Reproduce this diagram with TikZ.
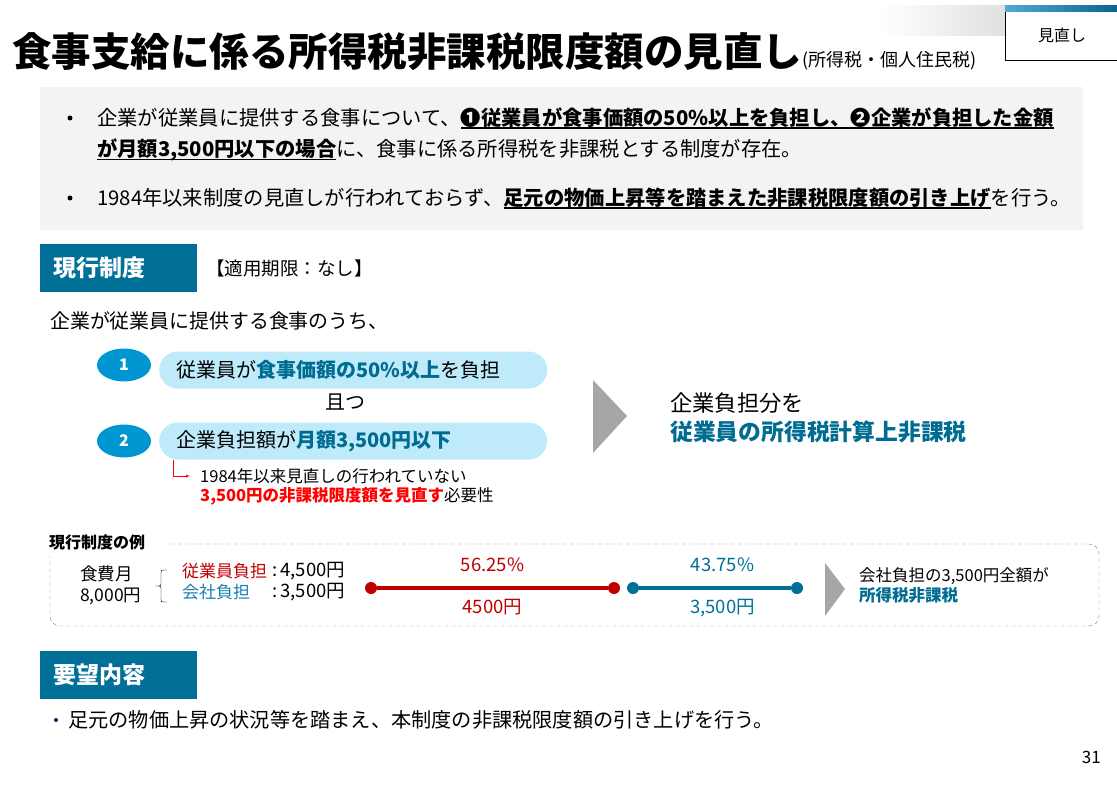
\documentclass[tikz,border=0pt]{standalone}
\usepackage{fontspec}
\setmainfont{Noto Sans CJK JP}
\usetikzlibrary{shapes.geometric}
\definecolor{hdrblue}{RGB}{0,112,153}
\definecolor{tealtxt}{RGB}{0,108,145}
\definecolor{dotblue}{RGB}{0,150,210}
\definecolor{pillblue}{RGB}{190,234,250}
\definecolor{boxgray}{RGB}{242,243,245}
\definecolor{lred}{RGB}{192,0,0}
\definecolor{cotxt}{RGB}{24,128,176}
\definecolor{navy}{RGB}{0,32,96}
\definecolor{stripl}{RGB}{80,170,210}
\definecolor{stripd}{RGB}{10,100,140}
\definecolor{arrowgray}{RGB}{166,166,166}
\newcommand{\fs}[1]{\fontsize{#1}{#1}\selectfont}
\newcommand{\uln}[1]{\setbox0\hbox{#1}\rlap{\rule[-3.5pt]{\wd0}{1.2pt}}\box0}
\tikzset{
  txt/.style={anchor=west, inner sep=0pt},
  body/.style={anchor=west, inner sep=0pt, font=\fs{20.3}},
  header/.style={anchor=north west, fill=hdrblue, text=white, font=\fs{23}\bfseries,
    minimum height=48pt, text width=131pt, inner xsep=13pt, inner ysep=0pt, align=left},
  pill/.style={anchor=west, fill=pillblue, rounded corners=18.5pt, minimum height=37pt,
    text width=354pt, inner xsep=17pt, inner ysep=0pt, align=left, font=\fs{20}},
  num/.style={ellipse, fill=dotblue, text=white, font=\fs{16}\bfseries,
    minimum width=54pt, minimum height=33pt, inner sep=0pt},
  dot/.style={circle, inner sep=0pt, minimum size=12pt},
}
\begin{document}
\begin{tikzpicture}[x=1pt,y=-1pt]
\useasboundingbox (0,0) rectangle (1117,790);
% title
\shade[left color=white, right color=black!12] (880,5) rectangle (1005,35);
\shade[left color=stripl, right color=stripd] (1005,5) rectangle (1117,12);
\fill[white] (1005,12) rectangle (1117,60);
\draw (1005,12) -- (1005,60) -- (1117,60);
\node[font=\fs{16}] (tag) at (1062,35) {見直し};
\node[txt, anchor=base west, font=\fs{39.5}\bfseries] (title) at (12,66) {食事支給に係る所得税非課税限度額の見直し};
\node[txt, anchor=base west, font=\fs{18}] (subtitle) at (title.base east) {(所得税・個人住民税)};

% summary box
\fill[boxgray] (40,87) rectangle (1083,230);
\foreach \y in {118,198}
  \fill (70,\y) circle (2.5pt);
\node[body] (sum1) at (97,118) {企業が従業員に提供する食事について、\uln{\bfseries ❶従業員が食事価額の50\%以上を負担し、❷企業が負担した金額}};
\node[body] (sum2) at (97,150) {\uln{\bfseries が月額3,500円以下の場合}に、食事に係る所得税を非課税とする制度が存在。};
\node[body] (sum3) at (97,198) {1984年以来制度の見直しが行われておらず、\uln{\bfseries 足元の物価上昇等を踏まえた非課税限度額の引き上げ}を行う。};

% current system
\node[header] (cur) at (40,244) {現行制度};
\node[txt, font=\fs{18.5}] (period) at (206,268) {【適用期限：なし】};
\node[txt, font=\fs{19.9}] (intro) at (50,321) {企業が従業員に提供する食事のうち、};
\node[num] (n1) at (124,365) {1};
\node[num] (n2) at (124,441) {2};
\node[pill] (c1) at (159,370) {従業員が\textcolor{tealtxt}{\bfseries 食事価額の50\%以上}を負担};
\node[pill] (c2) at (159,441) {企業負担額が\textcolor{tealtxt}{\bfseries 月額3,500円以下}};
\node[font=\fs{20}] (and) at (345,402) {且つ};
\node[txt, font=\fs{16.5}] (note1) at (200,476) {1984年以来見直しの行われていない};
\node[txt, font=\fs{16.5}] (note2) at (200,496) {\textcolor{red}{\bfseries 3,500円の非課税限度額を見直す}必要性};
\draw[red, ->, >=latex] ([xshift=14pt]c2.south west) |- ([xshift=-10pt]note1.west);
\fill[arrowgray] (593,380) -- (627,416) -- (593,453) -- cycle;
\node[txt, font=\fs{22.3}] (res1) at (670,403) {企業負担分を};
\node[txt, font=\fs{22.8}\bfseries, text=tealtxt] (res2) at (670,432) {従業員の所得税計算上非課税};

% example
\draw[gray, dash pattern=on 4pt off 3pt, rounded corners=10pt] (50,544) rectangle (1099,626);
\node[anchor=west, fill=white, inner xsep=0pt, inner ysep=6pt, text width=122pt, align=left, font=\fs{16}\bfseries] (extitle) at (49,542) {現行制度の例};
\node[txt, font=\fs{17.5}] (meal1) at (80,574) {食費月};
\node[txt, font=\fs{17.5}] (meal2) at (80,596) {8,000円};
\draw (167,570) -- (164,570) .. controls (161,570) .. (161,573) -- (161,583)
  .. controls (161,586) .. (155,586) .. controls (161,586) .. (161,589) -- (161,599)
  .. controls (161,602) .. (164,602) -- (167,602);
\node[txt, font=\fs{17}, text=lred] (emp) at (182,571) {従業員負担};
\node[txt, font=\fs{17}, text=cotxt] (co) at (182,592) {会社負担};
\node[txt, font=\fs{18.5}] (empval) at (272,571) {:\,4,500円};
\node[txt, font=\fs{18.5}] (coval) at (272,592) {:\,3,500円};
\node[dot, fill=lred] (r1) at (371,588) {};
\node[dot, fill=lred] (r2) at (614,588) {};
\node[dot, fill=hdrblue] (b1) at (633,588) {};
\node[dot, fill=hdrblue] (b2) at (797,588) {};
\draw[lred, line width=4pt] (r1) -- (r2)
  node[midway, above=14pt, inner sep=0pt, font=\fs{18.5}] {56.25\%}
  node[midway, below=9.5pt, inner sep=0pt, font=\fs{18.5}] {4500円};
\draw[hdrblue, line width=4pt] (b1) -- (b2)
  node[pos=0.55, above=14pt, inner sep=0pt, font=\fs{18.5}] {43.75\%}
  node[pos=0.55, below=9.5pt, inner sep=0pt, font=\fs{18.5}] {3,500円};
\fill[arrowgray] (825,563) -- (845,589) -- (825,616) -- cycle;
\node[txt, font=\fs{16.5}] (out1) at (859,576) {会社負担の3,500円全額が};
\node[txt, font=\fs{16.5}\bfseries, text=tealtxt] (out2) at (859,595) {所得税非課税};

% request
\node[header] (req) at (40,651) {要望内容};
\fill[navy] (56,720) circle (2pt);
\node[txt, font=\fs{20.2}] (reqtext) at (68,720) {足元の物価上昇の状況等を踏まえ、本制度の非課税限度額の引き上げを行う。};
\node[anchor=east, inner sep=0pt, font=\fs{17}] (page) at (1101,757) {31};
\end{tikzpicture}
\end{document}
